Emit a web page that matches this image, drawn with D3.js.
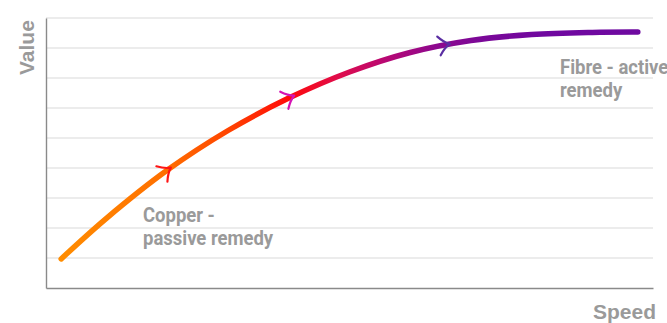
<!DOCTYPE html>
<html><head><meta charset="utf-8">
<script src="https://cdn.jsdelivr.net/npm/d3@7"></script>
<style>
html,body{margin:0;padding:0;background:#fff;}
svg{display:block;}
text{font-family:Roboto,"Liberation Sans",Arial,sans-serif;font-weight:bold;fill:#9a9a9a;}
text.title{font-family:"Liberation Sans",Arial,sans-serif;font-weight:bold;}
</style></head>
<body><svg id="c" width="667" height="323"></svg>
<script>
// ---- data ----
const speed = [2.5, 10, 20, 30, 40, 50, 60, 70, 80, 90, 97.5];
const value = [0.97, 2.33, 3.93, 5.25, 6.33, 7.2, 7.85, 8.25, 8.45, 8.52, 8.53];
const gridValues = [1, 2, 3, 4, 5, 6, 7, 8, 9];
const arrowSpeeds = [20.3, 40.6, 66.2];
const xTitle = "Speed";
const yTitle = "Value";
const labelCopper = ["Copper -", "passive remedy"];
const labelFibre = ["Fibre - active", "remedy"];

// ---- styles ----
const arrowColors = ["#ff1414", "#d414b4", "#5a2ea2"];
const gradStops = [[2.5, "#ff8c00"], [20, "#ff6e00"], [30, "#ff4400"], [40, "#ff0a0a"], [48, "#e00c4a"], [56, "#b80874"], [64, "#8e088e"], [72, "#7a0898"], [82, "#7008a0"], [97.5, "#6e0aa0"]];

const svg = d3.select("#c");
const x = d3.scaleLinear().domain([0, 100]).range([46, 653]);
const y = d3.scaleLinear().domain([0, 9]).range([288, 18]);

// grid
svg.append("g").selectAll("line").data(gridValues).join("line")
  .attr("x1", x(0)).attr("x2", x(100))
  .attr("y1", d => y(d)).attr("y2", d => y(d))
  .attr("stroke", "#e6e6e6").attr("stroke-width", 1.5);

// axes
const xAxis = svg.append("g").attr("transform", `translate(0,${y(0)})`)
  .call(d3.axisBottom(x).tickValues([]).tickSizeOuter(0));
const yAxis = svg.append("g").attr("transform", `translate(${x(0)},0)`)
  .call(d3.axisLeft(y).tickValues([]).tickSizeOuter(0));
[xAxis, yAxis].forEach(a => a.select(".domain").attr("stroke", "#8a8a8a").attr("stroke-width", 1.4));

// gradient
const defs = svg.append("defs");
const grad = defs.append("linearGradient").attr("id", "g1")
  .attr("gradientUnits", "userSpaceOnUse")
  .attr("x1", x(0)).attr("x2", x(100)).attr("y1", 0).attr("y2", 0);
grad.selectAll("stop").data(gradStops).join("stop")
  .attr("offset", d => d[0] / 100).attr("stop-color", d => d[1]);

// curve
const pts = speed.map((s, i) => [s, value[i]]);
const line = d3.line().x(d => x(d[0])).y(d => y(d[1])).curve(d3.curveCatmullRom.alpha(0.5));
const path = svg.append("path").attr("d", line(pts))
  .attr("fill", "none").attr("stroke", "url(#g1)")
  .attr("stroke-width", 5.5).attr("stroke-linecap", "round");

// arrows
const node = path.node();
const L = node.getTotalLength();
function pointAtX(px) {
  let lo = 0, hi = L;
  for (let k = 0; k < 40; k++) {
    const mid = (lo + hi) / 2;
    if (node.getPointAtLength(mid).x < px) lo = mid; else hi = mid;
  }
  return lo;
}
arrowSpeeds.forEach((s, i) => {
  const l = pointAtX(x(s));
  const p = node.getPointAtLength(l);
  const p2 = node.getPointAtLength(Math.min(L, l + 2));
  const p1 = node.getPointAtLength(Math.max(0, l - 2));
  const ang = Math.atan2(p2.y - p1.y, p2.x - p1.x) * 180 / Math.PI;
  svg.append("path")
    .attr("d", "M-9,-9.5 Q-3.5,-2.5 2,0 Q-3.5,2.5 -9,9.5")
    .attr("transform", `translate(${p.x},${p.y}) rotate(${ang})`)
    .attr("fill", "none").attr("stroke", arrowColors[i])
    .attr("stroke-width", 2.2).attr("stroke-linecap", "round").attr("stroke-linejoin", "round");
});

// titles
svg.append("text").attr("class", "title").attr("x", 656).attr("y", 319).attr("text-anchor", "end")
  .style("font-size", "21px").text(xTitle);
svg.append("text").attr("class", "title").attr("transform", "translate(33.5,75) rotate(-90)")
  .style("font-size", "21px").text(yTitle);

// annotations
function label(lines, lx, ly) {
  const g = svg.append("g").attr("transform", `translate(${lx},${ly}) scale(0.88,1)`);
  g.selectAll("text").data(lines).join("text")
    .attr("x", 0).attr("y", (d, i) => i * 23.5)
    .style("font-size", "21px").text(d => d);
}
label(labelCopper, 143, 222);
label(labelFibre, 560, 73.5);
</script></body></html>
